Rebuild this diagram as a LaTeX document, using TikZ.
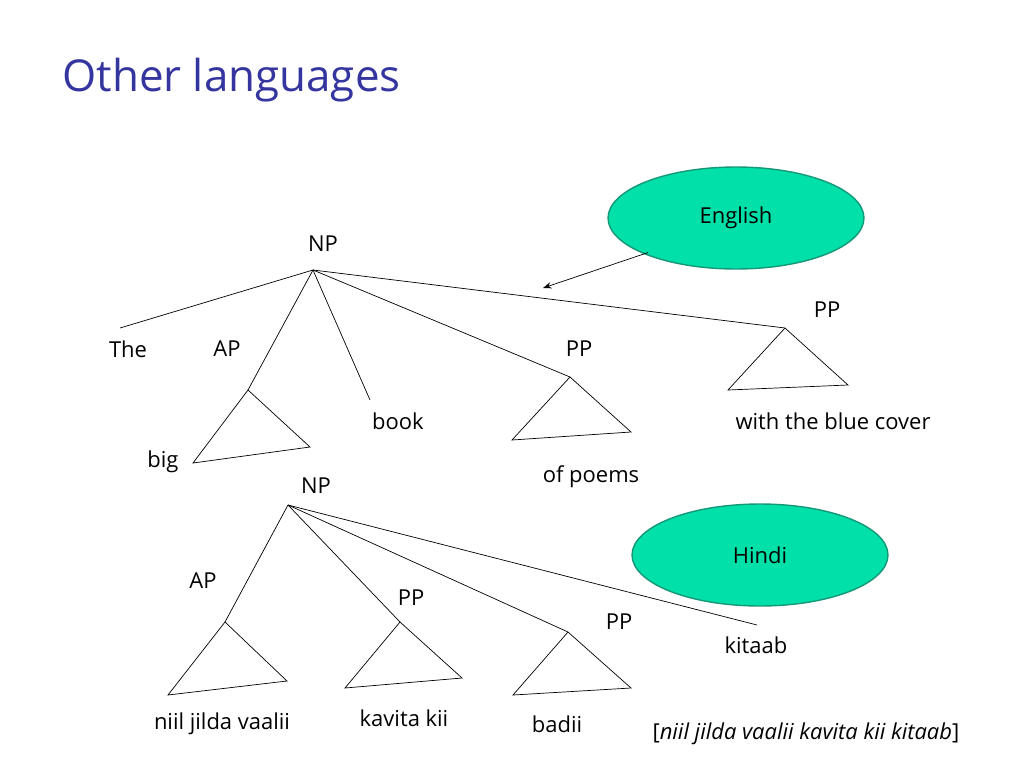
\documentclass[tikz,border=0pt]{standalone}
\usepackage{fontspec}
\setmainfont{Open Sans}
\usetikzlibrary{positioning, shapes.geometric, arrows.meta}
\definecolor{titleblue}{HTML}{3535A0}
\definecolor{bubble}{HTML}{00E0A8}
\definecolor{bubbleline}{HTML}{159878}

\begin{document}
\begin{tikzpicture}[
		x=0.02cm, y=-0.02cm,
		lbl/.style={font=\fontsize{12.5}{14}\selectfont, inner sep=1pt},
		lang/.style={ellipse, draw=bubbleline, thick, fill=bubble, minimum width=5.12cm, minimum height=2.04cm, font=\fontsize{12.5}{14}\selectfont},
		tri/.style={draw, line join=miter},
		>=Stealth
	]
	\useasboundingbox (0,0) rectangle (1024,768);

	\node[anchor=west, text=titleblue, font=\fontsize{25}{30}\selectfont, inner sep=0pt] (title) at (62,80) {Other languages};

	% English tree
	\node[lang] (eng) at (736,218) {English};
	\coordinate (engtip) at (543,288);
	\draw[->] (eng.south west) ++(3,-2) coordinate (engfrom) -- (engtip);

	\node[lbl] (np1) at (323,244) {NP};
	\coordinate (np1r) at (313,270);
	\node[lbl] (the) at (128,349) {The};
	\node[lbl] (ap1) at (227,349) {AP};
	\node[lbl] (pp1) at (579,349) {PP};
	\node[lbl] (pp2) at (827,310) {PP};
	\node[lbl] (book) at (398,421) {book};
	\node[lbl] (big) at (163,462) {big};
	\node[lbl] (poems) at (591,477) {of poems};
	\node[lbl] (cover) at (833,421) {with the blue cover};

	\coordinate (a1) at (248,390);
	\coordinate (a2) at (570,377);
	\coordinate (a3) at (785,328);
	\foreach \t in {(120,328), (a1), (370,400), (a2), (a3)}
		\draw (np1r) -- \t;
	\draw[tri] (a1) -- (193,463) -- (310,447) -- cycle;
	\draw[tri] (a2) -- (512,440) -- (631,432) -- cycle;
	\draw[tri] (a3) -- (728,390) -- (848,385) -- cycle;

	% Hindi tree
	\node[lang] (hin) at (760,555) {Hindi};

	\node[lbl] (np2) at (316,486) {NP};
	\coordinate (np2r) at (288,505);
	\node[lbl] (ap2) at (203,581) {AP};
	\node[lbl] (pp3) at (411,598) {PP};
	\node[lbl] (pp4) at (619,622) {PP};
	\node[lbl] (kitaab) at (756,645) {kitaab};
	\node[lbl] (niil) at (222,724) {niil jilda vaalii};
	\node[lbl] (kavita) at (404,718) {kavita kii};
	\node[lbl] (badii) at (557,724) {badii};
	\node[lbl] (gloss) at (806,734) {[\textit{niil jilda vaalii kavita kii kitaab}]};

	\coordinate (b1) at (225,622);
	\coordinate (b2) at (400,622);
	\coordinate (b3) at (568,632);
	\foreach \t in {(b1), (b2), (b3), (757,625)}
		\draw (np2r) -- \t;
	\draw[tri] (b1) -- (168,695) -- (287,681) -- cycle;
	\draw[tri] (b2) -- (345,688) -- (462,678) -- cycle;
	\draw[tri] (b3) -- (513,695) -- (631,688) -- cycle;

\end{tikzpicture}
\end{document}
